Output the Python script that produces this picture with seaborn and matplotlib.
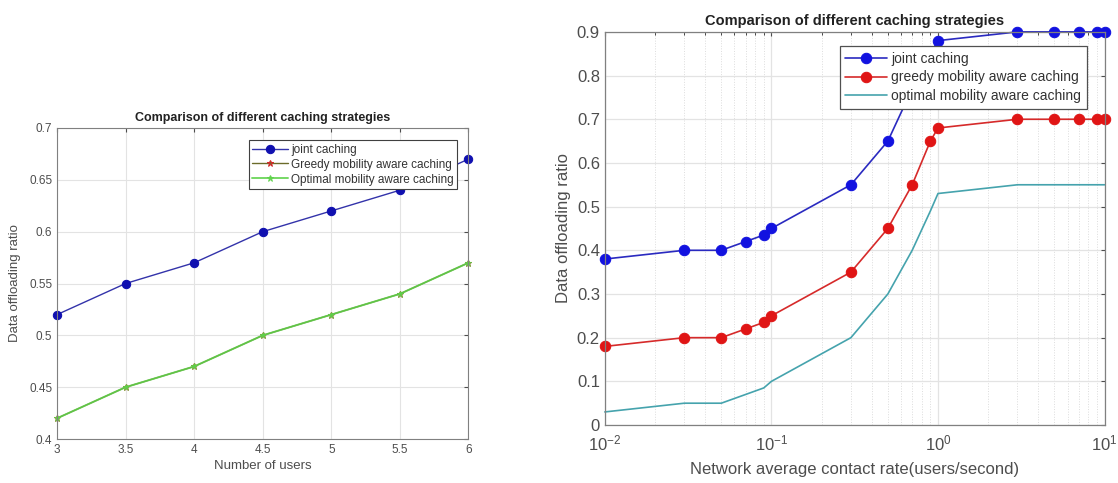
import numpy as np
import pandas as pd
import matplotlib
matplotlib.use("Agg")
import matplotlib.pyplot as plt
import seaborn as sns
from matplotlib.ticker import LogLocator, NullFormatter

# left panel data
users = [3, 3.5, 4, 4.5, 5, 5.5, 6]
joint_users = [0.52, 0.55, 0.57, 0.60, 0.62, 0.64, 0.67]
greedy_users = [0.42, 0.45, 0.47, 0.50, 0.52, 0.54, 0.57]
optimal_users = [0.42, 0.45, 0.47, 0.50, 0.52, 0.54, 0.57]

# right panel data
rate = [0.01, 0.03, 0.05, 0.07, 0.09, 0.1, 0.3, 0.5, 0.7, 0.9, 1, 3, 5, 7, 9, 10]
joint_rate = [0.38, 0.40, 0.40, 0.42, 0.435, 0.45, 0.55, 0.65, 0.77, 0.85, 0.88,
              0.90, 0.90, 0.90, 0.90, 0.90]
greedy_rate = [0.18, 0.20, 0.20, 0.22, 0.235, 0.25, 0.35, 0.45, 0.55, 0.65, 0.68,
               0.70, 0.70, 0.70, 0.70, 0.70]
optimal_rate = [0.03, 0.05, 0.05, 0.07, 0.085, 0.10, 0.20, 0.30, 0.40, 0.49, 0.53,
                0.55, 0.55, 0.55, 0.55, 0.55]

sns.set_style("white")
plt.rcParams['font.family'] = ['Liberation Sans', 'DejaVu Sans']

fig = plt.figure(figsize=(11.18, 4.83), dpi=100)
ax1 = fig.add_axes([0.051, 0.091, 0.368, 0.644])
ax2 = fig.add_axes([0.541, 0.120, 0.447, 0.814])

grey = "#4d4d4d"
grid_c = "#e3e3e3"

# ---- left panel
sns.lineplot(x=users, y=joint_users, ax=ax1, color="#3333aa", lw=1.0,
             marker="o", markersize=6, markerfacecolor="#1010b0",
             markeredgecolor="#1010b0", label="joint caching")
sns.lineplot(x=users, y=greedy_users, ax=ax1, color="#d42a2a", lw=1.0,
             marker="*", markersize=5, markeredgecolor="#d42a2a",
             label="Greedy mobility aware caching")
sns.lineplot(x=users, y=optimal_users, ax=ax1, color="#5ed24a", lw=1.4,
             marker="*", markersize=5, markeredgecolor="#5ed24a",
             label="Optimal mobility aware caching", alpha=0.85)
ax1.lines[1].set_color("#6b6b2a")
for ln in ax1.lines:
    ln.set_clip_on(False)

ax1.set_xlim(3, 6)
ax1.set_ylim(0.4, 0.7)
ax1.set_xticks(users)
ax1.set_xticklabels(["3", "3.5", "4", "4.5", "5", "5.5", "6"])
ax1.set_yticks(np.arange(0.4, 0.701, 0.05))
ax1.set_yticklabels(["0.4", "0.45", "0.5", "0.55", "0.6", "0.65", "0.7"])
ax1.grid(True, color=grid_c, lw=0.8)
ax1.tick_params(labelsize=8.5, colors=grey, direction="in", length=3,
                top=True, right=True)
for s in ax1.spines.values():
    s.set_color("#808080")
    s.set_linewidth(0.8)
ax1.set_title("Comparison of different caching strategies", fontsize=9,
              fontweight="bold", color="#222222", pad=5)
ax1.set_xlabel("Number of users", fontsize=9.5, color=grey, labelpad=3)
ax1.set_ylabel("Data offloading ratio", fontsize=9.5, color=grey, labelpad=6)
leg1 = ax1.legend(loc="upper right", fontsize=8.5, frameon=True, fancybox=False,
                  edgecolor="#404040", borderpad=0.3, labelspacing=0.25,
                  handlelength=3.0, handletextpad=0.3, framealpha=1,
                  borderaxespad=0, bbox_to_anchor=(0.973, 0.961))
leg1.get_frame().set_linewidth(0.8)
for t in leg1.get_texts():
    t.set_color("#333333")

# ---- right panel
sns.lineplot(x=rate, y=joint_rate, ax=ax2, color="#2a2ac0", lw=1.2,
             marker="o", markersize=7.5, markerfacecolor="#1212e0",
             markeredgecolor="#1212e0", label="joint caching")
sns.lineplot(x=rate, y=greedy_rate, ax=ax2, color="#d62a2a", lw=1.2,
             marker="o", markersize=7.5, markerfacecolor="#e01515",
             markeredgecolor="#e01515", label="greedy mobility aware caching")
sns.lineplot(x=rate, y=optimal_rate, ax=ax2, color="#45a3ad", lw=1.2,
             label="optimal mobility aware caching")
for ln in ax2.lines:
    ln.set_clip_on(False)

ax2.set_xscale("log")
ax2.set_xlim(0.01, 10)
ax2.set_ylim(0, 0.9)
ax2.xaxis.set_major_locator(LogLocator(base=10, numticks=10))
ax2.xaxis.set_minor_locator(LogLocator(base=10, subs=np.arange(2, 10), numticks=30))
ax2.xaxis.set_minor_formatter(NullFormatter())
ax2.set_yticks(np.arange(0, 0.91, 0.1))
ax2.set_yticklabels(["0", "0.1", "0.2", "0.3", "0.4", "0.5", "0.6", "0.7", "0.8", "0.9"])
ax2.grid(True, which="major", color=grid_c, lw=0.9)
ax2.grid(True, which="minor", axis="x", color="#dcdcdc", lw=0.7, ls=":")
ax2.tick_params(labelsize=12, colors=grey, direction="in", length=3,
                top=True, right=True)
ax2.tick_params(axis="x", pad=6)
ax2.tick_params(which="minor", direction="in", length=2, top=True)
for s in ax2.spines.values():
    s.set_color("#808080")
    s.set_linewidth(0.9)
ax2.set_title("Comparison of different caching strategies", fontsize=10.5,
              fontweight="bold", color="#222222", pad=5)
ax2.set_xlabel("Network average contact rate(users/second)", fontsize=12,
               color=grey, labelpad=6)
ax2.set_ylabel("Data offloading ratio", fontsize=12, color=grey, labelpad=4)
leg2 = ax2.legend(loc="upper right", fontsize=10, frameon=True, fancybox=False,
                  edgecolor="#505050", borderpad=0.4, labelspacing=0.35,
                  handlelength=3.0, handletextpad=0.3, framealpha=1,
                  borderaxespad=0, bbox_to_anchor=(0.964, 0.964))
leg2.get_frame().set_linewidth(0.9)
for t in leg2.get_texts():
    t.set_color("#333333")

fig.savefig("out.png", dpi=100)
